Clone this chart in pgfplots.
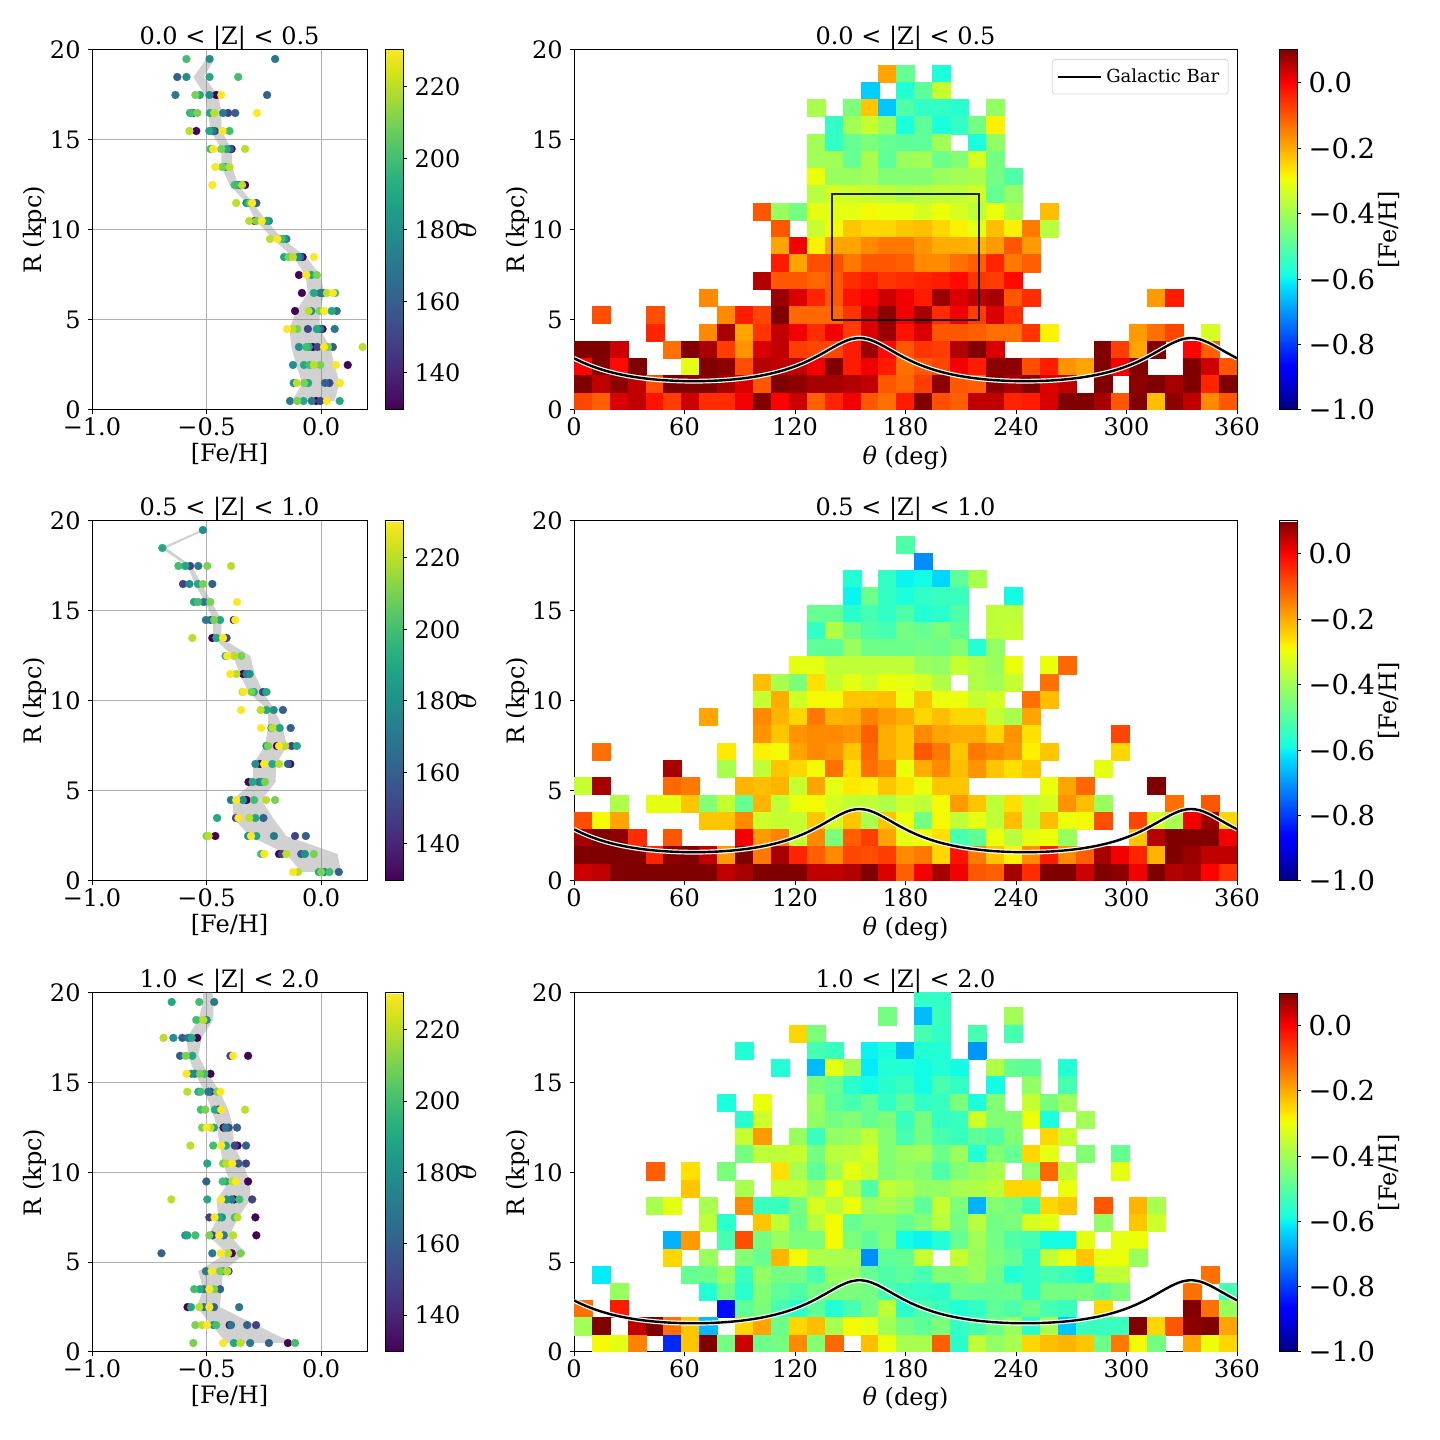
\documentclass[border=0pt]{standalone}
\usepackage{fontspec}
\setmainfont{DejaVu Serif}
\usepackage{pgfplots}
\usepackage{pgfplotstable}
\pgfplotsset{compat=1.18}

\pgfplotsset{
  colormap={mpljet}{rgb255(0)=(0,0,128) rgb255(22)=(0,0,255) rgb255(25)=(0,0,255) rgb255(68)=(0,219,255) rgb255(70)=(0,230,255) rgb255(75)=(21,255,226) rgb255(128)=(238,255,8) rgb255(130)=(247,246,0) rgb255(132)=(255,236,0) rgb255(178)=(255,19,0) rgb255(182)=(255,0,0) rgb255(200)=(128,0,0)},
  base/.style={
    scale only axis, at={(#1)}, anchor=south west,
    clip marker paths=true,
    ymin=0, ymax=20, ytick={0,5,10,15,20}, yticklabels={0,5,10,15,20},
    tick align=outside, tick pos=left,
    major tick length=2.2pt,
    tick style={black, line width=0.5pt},
    axis line style={line width=0.5pt},
    tick label style={font=\fontsize{12}{12}\selectfont},
    label style={font=\fontsize{12}{12}\selectfont},
    title style={font=\fontsize{12}{12}\selectfont, at={(axis description cs:0.5,1.039)}, anchor=center, yshift=-7pt},
    ylabel={R (kpc)},
    xticklabel style={yshift=2pt},
  },
  cbar/.style={
    at={(parent axis.south east)}, anchor=south west,
    width=9pt,
    tick pos=right,
    tick align=outside, major tick length=2.2pt,
    tick style={black, line width=0.5pt},
    axis line style={line width=0.5pt},
    ylabel style={font=\fontsize{12}{12}\selectfont},
  },
  leftax/.style={
    base={#1}, width=137.5pt, height=180pt,
    xmin=-1, xmax=0.2, xtick={-1,-0.5,0}, xticklabels={−1.0,−0.5,0.0},
    grid=major, grid style={color=black!31, line width=0.5pt},
    xlabel={[Fe/H]},
    xlabel style={at={(axis description cs:0.5,-0.123)}, anchor=center},
    ylabel style={at={(axis description cs:-0.207,0.5)}, anchor=center},
    colormap/viridis, point meta min=129.65, point meta max=230.35,
    colorbar,
    colorbar style={
      cbar, xshift=0.5pt,
      ytick={140,160,180,200,220}, yticklabels={140,160,180,200,220},
      tick label style={font=\fontsize{12}{12}\selectfont},
      ylabel={\textit{θ}},
      ylabel style={at={(axis description cs:4.6,0.5)}, anchor=center},
    },
  },
  rightax/.style={
    base={#1}, width=331.5pt, height=180pt,
    xmin=0, xmax=360, xtick={0,60,...,360}, xticklabels={0,60,120,180,240,300,360},
    xlabel={\textit{θ} (deg)},
    xlabel style={at={(axis description cs:0.5,-0.132)}, anchor=center},
    ylabel style={at={(axis description cs:-0.0845,0.5)}, anchor=center},
    colormap name=mpljet, point meta min=-1, point meta max=0.1,
    colorbar,
    colorbar style={
      cbar, xshift=12.5pt,
      ytick={-1,-0.8,-0.6,-0.4,-0.2,0}, yticklabels={−1.0,−0.8,−0.6,−0.4,−0.2,0.0},
      tick label style={font=\fontsize{13.7}{14}\selectfont},
      ylabel={[Fe/H]},
      ylabel style={at={(axis description cs:6.1,0.5)}, anchor=center},
    },
  },
  pts/.style={scatter, only marks, mark=*, mark size=2pt, scatter src=explicit, forget plot, line width=0.1pt,
    scatter/use mapped color={draw=mapped color, fill=mapped color}},
  band/.style={draw=none, fill=gray, fill opacity=0.36, forget plot},
  hm/.style={scatter, only marks, mark=square*, mark size=4.5pt, scatter src=explicit, forget plot,
    scatter/use mapped color={draw=mapped color, fill=mapped color},
    line width=0.1pt, mark options={yscale=0.955},
    x filter/.expression={(x+0.5)*360/37}, y filter/.expression={(y+0.5)*0.9595}},
}

\pgfplotstableread{
theta R
0 2.874
5 2.63
10 2.422
15 2.247
20 2.101
25 1.98
30 1.881
35 1.80
40 1.735
45 1.685
50 1.647
55 1.621
60 1.605
65 1.6
70 1.605
75 1.621
80 1.647
85 1.685
90 1.735
95 1.80
100 1.881
105 1.98
110 2.101
115 2.247
120 2.422
125 2.63
130 2.874
135 3.148
140 3.441
145 3.717
150 3.922
155 4
160 3.922
165 3.717
170 3.441
175 3.148
180 2.874
185 2.63
190 2.422
195 2.247
200 2.101
205 1.98
210 1.881
215 1.80
220 1.735
225 1.685
230 1.647
235 1.621
240 1.605
245 1.6
250 1.605
255 1.621
260 1.647
265 1.685
270 1.735
275 1.80
280 1.881
285 1.98
290 2.101
295 2.247
300 2.422
305 2.63
310 2.874
315 3.148
320 3.441
325 3.717
330 3.922
335 4
340 3.922
345 3.717
350 3.441
355 3.148
360 2.874
}\bartable

\begin{document}
\begin{tikzpicture}
\path[use as bounding box] (0,0) rectangle (720pt,720pt);

% ---- top row, 0.0 < |Z| < 0.5
\begin{axis}[leftax={46pt,515pt}, title={0.0 < |Z| < 0.5}]
\addplot[band] coordinates {(-0.5,19.5)(-0.558,18.5)(-0.507,17.5)(-0.493,16.5)(-0.483,15.5)(-0.435,14.5)(-0.435,13.5)(-0.399,12.5)(-0.326,11.5)(-0.283,10.5)(-0.21,9.5)(-0.123,8.5)(-0.068,7.5)(-0.058,6.5)(-0.109,5.5)(-0.138,4.5)(-0.13,3.5)(-0.109,2.5)(-0.083,1.5)(-0.126,0.5)
 (0.058,0.5)(0.08,1.5)(0.058,2.5)(0.039,3.5)(-0.007,4.5)(-0.007,5.5)(0.014,6.5)(-0.004,7.5)(-0.065,8.5)(-0.167,9.5)(-0.239,10.5)(-0.297,11.5)(-0.362,12.5)(-0.388,13.5)(-0.391,14.5)(-0.435,15.5)(-0.435,16.5)(-0.449,17.5)(-0.512,18.5)(-0.465,19.5)};
\addplot[pts] coordinates {
(-0.201,19.5)[170](-0.487,19.5)[180](-0.588,19.5)[200]
(-0.628,18.5)[160](-0.588,18.5)[180](-0.487,18.5)[190](-0.362,18.5)[200]
(-0.458,17.5)[130](-0.236,17.5)[160](-0.636,17.5)[170](-0.487,17.5)[180](-0.529,17.5)[190](-0.549,17.5)[210](-0.436,17.5)[230]
(-0.56,16.5)[130](-0.406,16.5)[150](-0.375,16.5)[160](-0.428,16.5)[170](-0.572,16.5)[190](-0.486,16.5)[190](-0.565,16.5)[200](-0.54,16.5)[210](-0.467,16.5)[220](-0.28,16.5)[230]
(-0.545,15.5)[130](-0.464,15.5)[150](-0.474,15.5)[170](-0.488,15.5)[190](-0.4,15.5)[200](-0.575,15.5)[220](-0.43,15.5)[230]
(-0.391,14.5)[130](-0.398,14.5)[160](-0.413,14.5)[190](-0.483,14.5)[200](-0.436,14.5)[210](-0.332,14.5)[220](-0.471,14.5)[230]
(-0.417,13.5)[190](-0.432,13.5)[210](-0.4,13.5)[220](-0.462,13.5)[230]
(-0.332,12.5)[130](-0.355,12.5)[160](-0.37,12.5)[180](-0.378,12.5)[200](-0.345,12.5)[220](-0.475,12.5)[230]
(-0.283,11.5)[160](-0.326,11.5)[170](-0.319,11.5)[190](-0.309,11.5)[210](-0.371,11.5)[220](-0.301,11.5)[230]
(-0.29,10.5)[130](-0.228,10.5)[180](-0.239,10.5)[190](-0.283,10.5)[210](-0.314,10.5)[220](-0.259,10.5)[230]
(-0.152,9.5)[170](-0.164,9.5)[190](-0.174,9.5)[200](-0.223,9.5)[220](-0.191,9.5)[230]
(-0.081,8.5)[130](-0.091,8.5)[160](-0.101,8.5)[180](-0.162,8.5)[190](-0.142,8.5)[210](-0.123,8.5)[220](-0.032,8.5)[230]
(-0.097,7.5)[130](-0.043,7.5)[190](-0.019,7.5)[210](-0.065,7.5)[230]
(-0.084,6.5)[130](0.007,6.5)[160](-0.004,6.5)[170](-0.032,6.5)[190](0.061,6.5)[200](0.025,6.5)[220](0.051,6.5)[230]
(-0.114,5.5)[130](0.068,5.5)[170](-0.043,5.5)[180](0.046,5.5)[190](-0.007,5.5)[210](-0.055,5.5)[220](0.013,5.5)[230]
(0.006,4.5)[130](-0.058,4.5)[150](0.059,4.5)[170](-0.004,4.5)[170](-0.019,4.5)[190](-0.104,4.5)[210](-0.126,4.5)[220](-0.149,4.5)[230]
(-0.036,3.5)[130](-0.016,3.5)[150](0.051,3.5)[160](-0.097,3.5)[180](-0.054,3.5)[190](-0.065,3.5)[200](0.03,3.5)[210](0.181,3.5)[220](0.012,3.5)[230]
(0.116,2.5)[130](-0.123,2.5)[180](-0.075,2.5)[190](-0.051,2.5)[200](-0.004,2.5)[210](-0.032,2.5)[220](0.064,2.5)[230]
(0.036,1.5)[150](0.017,1.5)[160](-0.12,1.5)[180](-0.057,1.5)[190](-0.074,1.5)[210](-0.106,1.5)[220](0.081,1.5)[220](0.081,1.5)[230]
(-0.022,0.5)[130](-0.004,0.5)[150](-0.136,0.5)[170](-0.041,0.5)[170](-0.077,0.5)[190](0.081,0.5)[190](-0.104,0.5)[210](0.025,0.5)[230]
};
\end{axis}

\begin{axis}[rightax={287pt,515pt}, title={0.0 < |Z| < 0.5},
  legend style={at={(0.9875,0.975)}, anchor=north east, draw=black!15, rounded corners=1.5pt, font=\fontsize{9}{10}\selectfont, inner sep=2.5pt, /tikz/column 2/.style={column sep=1.5pt}},
  legend image code/.code={\draw[#1] (0cm,0cm) -- (0.75cm,0cm);}]
\addplot[hm] coordinates {
(17,19)[-0.19](18,19)[-0.48](20,19)[-0.58]
(16,18)[-0.64](18,18)[-0.57](19,18)[-0.49](20,18)[-0.35]
(13,17)[-0.39](15,17)[-0.45](16,17)[-0.23](17,17)[-0.65](18,17)[-0.51](19,17)[-0.55](20,17)[-0.55](21,17)[-0.56](23,17)[-0.42]
(14,16)[-0.55](15,16)[-0.40](16,16)[-0.35](17,16)[-0.41](18,16)[-0.58](19,16)[-0.49](20,16)[-0.58](21,16)[-0.55](22,16)[-0.46](23,16)[-0.28]
(13,15)[-0.40](14,15)[-0.55](15,15)[-0.48](16,15)[-0.45](17,15)[-0.48](18,15)[-0.49](19,15)[-0.49](20,15)[-0.40](22,15)[-0.58](23,15)[-0.42]
(13,14)[-0.40](14,14)[-0.40](15,14)[-0.48](16,14)[-0.39](17,14)[-0.49](18,14)[-0.41](19,14)[-0.40](20,14)[-0.47](21,14)[-0.44](22,14)[-0.33](23,14)[-0.46]
(13,13)[-0.30](14,13)[-0.41](15,13)[-0.41](16,13)[-0.40](17,13)[-0.44](18,13)[-0.44](19,13)[-0.44](20,13)[-0.41](21,13)[-0.40](22,13)[-0.39](23,13)[-0.46](24,13)[-0.51]
(13,12)[-0.37](14,12)[-0.33](15,12)[-0.34](16,12)[-0.35](17,12)[-0.36](18,12)[-0.38](19,12)[-0.37](20,12)[-0.36](21,12)[-0.36](22,12)[-0.34](23,12)[-0.48](24,12)[-0.42]
(10,11)[-0.10](11,11)[-0.41](12,11)[-0.46](13,11)[-0.31](14,11)[-0.31](15,11)[-0.31](16,11)[-0.29](17,11)[-0.30](18,11)[-0.30](19,11)[-0.33](20,11)[-0.30](21,11)[-0.33](22,11)[-0.36](23,11)[-0.30](24,11)[-0.38](26,11)[-0.22]
(11,10)[-0.10](13,10)[-0.35](14,10)[-0.29](15,10)[-0.23](16,10)[-0.25](17,10)[-0.25](18,10)[-0.23](19,10)[-0.22](20,10)[-0.25](21,10)[-0.28](22,10)[-0.31](23,10)[-0.22](24,10)[-0.28](25,10)[-0.14](26,10)[-0.37]
(11,9)[-0.19](12,9)[0.01](13,9)[-0.28](14,9)[-0.19](15,9)[-0.19](16,9)[-0.16](17,9)[-0.14](18,9)[-0.14](19,9)[-0.17](20,9)[-0.20](21,9)[-0.20](22,9)[-0.21](23,9)[-0.18](24,9)[-0.10](25,9)[-0.18]
(11,8)[-0.03](12,8)[-0.19](13,8)[-0.09](14,8)[-0.09](15,8)[-0.14](16,8)[-0.10](17,8)[-0.10](18,8)[-0.11](19,8)[-0.16](20,8)[-0.16](21,8)[-0.13](22,8)[-0.11](23,8)[-0.04](24,8)[-0.14](25,8)[-0.11]
(10,7)[0.06](11,7)[-0.10](12,7)[-0.10](13,7)[-0.12](14,7)[-0.10](15,7)[-0.05](16,7)[-0.03](17,7)[-0.06](18,7)[-0.05](19,7)[-0.04](20,7)[-0.03](21,7)[-0.01](22,7)[-0.06](23,7)[-0.07](24,7)[-0.01]
(7,6)[-0.16](11,6)[0.08](12,6)[0.03](13,6)[-0.04](14,6)[-0.10](15,6)[-0.02](16,6)[0.00](17,6)[0.04](18,6)[0.01](19,6)[-0.03](20,6)[0.08](21,6)[0.03](22,6)[0.05](23,6)[0.07](24,6)[-0.10](25,6)[-0.05](32,6)[-0.18](33,6)[-0.03]
(1,5)[-0.09](4,5)[-0.09](8,5)[-0.16](9,5)[-0.03](10,5)[-0.08](11,5)[0.10](12,5)[-0.12](13,5)[-0.12](14,5)[-0.12](15,5)[-0.06](16,5)[0.03](17,5)[0.09](18,5)[0.01](19,5)[0.07](20,5)[-0.05](21,5)[0.01](22,5)[-0.07](23,5)[0.03](24,5)[-0.05]
(4,4)[-0.04](7,4)[-0.16](8,4)[0.07](9,4)[-0.19](10,4)[-0.06](11,4)[0.05](12,4)[0.01](13,4)[-0.05](14,4)[0.01](15,4)[-0.07](16,4)[0.03](17,4)[0.08](18,4)[-0.02](19,4)[0.03](20,4)[-0.10](21,4)[-0.10](22,4)[-0.11](23,4)[-0.13](24,4)[-0.13](25,4)[-0.06](26,4)[-0.28](31,4)[-0.18](32,4)[-0.13](33,4)[-0.08](35,4)[-0.33]
(0,3)[0.10](1,3)[0.10](2,3)[0.04](5,3)[-0.13](6,3)[0.10](7,3)[0.07](8,3)[-0.07](9,3)[-0.17](10,3)[0.03](11,3)[0.05](12,3)[-0.07](13,3)[-0.08](14,3)[-0.08](15,3)[-0.03](16,3)[0.08](17,3)[-0.01](18,3)[-0.10](19,3)[-0.06](20,3)[-0.07](21,3)[0.06](22,3)[0.10](23,3)[0.03](29,3)[0.10](30,3)[-0.07](31,3)[-0.19](32,3)[0.10](34,3)[0.00](35,3)[-0.11]
(0,2)[0.00](1,2)[0.10](2,2)[-0.01](3,2)[0.10](6,2)[-0.31](7,2)[0.10](8,2)[0.09](9,2)[-0.09](10,2)[0.06](11,2)[0.05](12,2)[0.05](13,2)[0.01](14,2)[0.10](15,2)[-0.03](16,2)[0.01](17,2)[-0.03](18,2)[-0.13](19,2)[-0.10](20,2)[-0.08](21,2)[0.01](22,2)[-0.03](23,2)[0.09](24,2)[0.09](25,2)[-0.09](26,2)[-0.03](27,2)[-0.17](28,2)[-0.19](29,2)[0.10](30,2)[0.01](31,2)[0.10](34,2)[0.10](35,2)[0.04](36,2)[-0.10]
(0,1)[0.10](1,1)[0.05](2,1)[0.09](3,1)[0.05](4,1)[-0.09](5,1)[0.10](6,1)[0.10](7,1)[0.10](8,1)[0.07](9,1)[0.03](10,1)[-0.10](11,1)[0.10](12,1)[0.09](13,1)[0.07](14,1)[0.07](15,1)[0.06](16,1)[0.05](17,1)[-0.10](18,1)[-0.12](19,1)[-0.07](20,1)[0.09](21,1)[-0.10](22,1)[-0.11](23,1)[0.09](24,1)[0.07](25,1)[0.10](26,1)[0.03](27,1)[0.05](29,1)[0.10](31,1)[0.09](32,1)[0.10](33,1)[0.07](34,1)[0.10](35,1)[-0.04](36,1)[0.10]
(0,0)[-0.08](1,0)[-0.11](2,0)[0.03](3,0)[0.05](4,0)[-0.02](5,0)[-0.07](6,0)[0.04](7,0)[-0.05](8,0)[-0.05](9,0)[0.01](10,0)[0.10](11,0)[0.00](12,0)[0.04](13,0)[-0.11](14,0)[-0.04](15,0)[0.01](16,0)[-0.10](17,0)[-0.13](18,0)[-0.03](19,0)[0.10](20,0)[-0.09](21,0)[-0.11](22,0)[0.05](23,0)[0.05](24,0)[-0.04](25,0)[-0.03](26,0)[0.03](27,0)[0.10](28,0)[0.10](29,0)[0.07](30,0)[-0.10](31,0)[0.10](32,0)[-0.22](33,0)[0.09](34,0)[0.05](35,0)[-0.16](36,0)[-0.10]
};
\addplot[black, opacity=0.85, line width=0.8pt, forget plot] coordinates {(140,5)(220,5)(220,12)(140,12)(140,5)};
\addplot[white, line width=2.4pt, smooth, forget plot] table[x=theta, y=R] {\bartable};
\addplot[black, line width=1.2pt, smooth] table[x=theta, y=R] {\bartable};
\addlegendentry{Galactic Bar}
\end{axis}

% ---- middle row, 0.5 < |Z| < 1.0
\begin{axis}[leftax={46pt,279.5pt}, title={0.5 < |Z| < 1.0}]
\addplot[band] coordinates {(-0.525,19.5)(-0.70,18.5)(-0.584,17.5)(-0.551,16.5)(-0.507,15.5)(-0.471,14.5)(-0.471,13.5)(-0.384,12.5)(-0.355,11.5)(-0.319,10.5)(-0.232,9.5)(-0.232,8.5)(-0.246,7.5)(-0.297,6.5)(-0.297,5.5)(-0.387,4.5)(-0.384,3.5)(-0.312,2.5)(-0.152,1.5)(-0.087,0.5)
 (0.087,0.5)(0.072,1.5)(-0.152,2.5)(-0.21,3.5)(-0.261,4.5)(-0.199,5.5)(-0.196,6.5)(-0.149,7.5)(-0.167,8.5)(-0.203,9.5)(-0.254,10.5)(-0.29,11.5)(-0.309,12.5)(-0.435,13.5)(-0.435,14.5)(-0.478,15.5)(-0.522,16.5)(-0.565,17.5)(-0.675,18.5)(-0.505,19.5)};
\addplot[pts] coordinates {
(-0.516,19.5)[180]
(-0.693,18.5)[190]
(-0.572,17.5)[150](-0.536,17.5)[170](-0.593,17.5)[190](-0.623,17.5)[200](-0.497,17.5)[210](-0.393,17.5)[220]
(-0.603,16.5)[150](-0.475,16.5)[160](-0.575,16.5)[180](-0.538,16.5)[190](-0.516,16.5)[210]
(-0.512,15.5)[170](-0.555,15.5)[190](-0.538,15.5)[200](-0.484,15.5)[210](-0.367,15.5)[230]
(-0.381,14.5)[130](-0.483,14.5)[160](-0.503,14.5)[170](-0.441,14.5)[190](-0.467,14.5)[210](-0.375,14.5)[230]
(-0.475,13.5)[130](-0.413,13.5)[150](-0.457,13.5)[190](-0.562,13.5)[220](-0.428,13.5)[230]
(-0.417,12.5)[190](-0.349,12.5)[210](-0.38,12.5)[220](-0.41,12.5)[230]
(-0.341,11.5)[130](-0.326,11.5)[170](-0.312,11.5)[180](-0.37,11.5)[220](-0.397,11.5)[230]
(-0.254,10.5)[150](-0.294,10.5)[190](-0.239,10.5)[190](-0.304,10.5)[210](-0.343,10.5)[220](-0.338,10.5)[230]
(-0.167,9.5)[160](-0.207,9.5)[180](-0.239,9.5)[190](-0.264,9.5)[220](-0.349,9.5)[230]
(-0.133,8.5)[160](-0.217,8.5)[180](-0.181,8.5)[190](-0.213,8.5)[220](-0.262,8.5)[230]
(-0.193,7.5)[130](-0.129,7.5)[150](-0.239,7.5)[180](-0.106,7.5)[190](-0.232,7.5)[210](-0.157,7.5)[220](-0.184,7.5)[230]
(-0.268,6.5)[130](-0.135,6.5)[130](-0.145,6.5)[160](-0.287,6.5)[180](-0.213,6.5)[190](-0.183,6.5)[220](-0.249,6.5)[230]
(-0.317,5.5)[130](-0.271,5.5)[170](-0.259,5.5)[180](-0.299,5.5)[190](-0.245,5.5)[210]
(-0.326,4.5)[130](-0.394,4.5)[170](-0.341,4.5)[180](-0.293,4.5)[200](-0.201,4.5)[210](-0.241,4.5)[220](-0.371,4.5)[230]
(-0.372,3.5)[150](-0.252,3.5)[160](-0.454,3.5)[190](-0.287,3.5)[190](-0.314,3.5)[220](-0.361,3.5)[230]
(-0.462,2.5)[130](-0.114,2.5)[150](-0.067,2.5)[160](-0.206,2.5)[170](-0.319,2.5)[180](-0.283,2.5)[190](-0.5,2.5)[210](-0.491,2.5)[220](-0.306,2.5)[230]
(-0.184,1.5)[130](-0.171,1.5)[150](-0.087,1.5)[160](-0.071,1.5)[180](-0.262,1.5)[200](-0.032,1.5)[210](-0.152,1.5)[220](-0.248,1.5)[230]
(0.077,0.5)[160](0.014,0.5)[170](-0.01,0.5)[190](0.036,0.5)[200](0,0.5)[210](-0.101,0.5)[220](-0.123,0.5)[230]
};
\end{axis}

\begin{axis}[rightax={287pt,279.5pt}, title={0.5 < |Z| < 1.0}]
\addplot[hm] coordinates {
(18,19)[-0.51]
(19,18)[-0.71]
(15,17)[-0.57](17,17)[-0.55](18,17)[-0.60](19,17)[-0.59](20,17)[-0.63](21,17)[-0.49](22,17)[-0.39]
(15,16)[-0.60](16,16)[-0.47](17,16)[-0.55](18,16)[-0.58](19,16)[-0.55](20,16)[-0.54](21,16)[-0.54](24,16)[-0.59]
(13,15)[-0.48](14,15)[-0.48](15,15)[-0.56](16,15)[-0.52](17,15)[-0.55](18,15)[-0.51](19,15)[-0.57](20,15)[-0.56](21,15)[-0.51](23,15)[-0.36](24,15)[-0.36]
(13,14)[-0.55](14,14)[-0.38](15,14)[-0.46](16,14)[-0.51](17,14)[-0.52](18,14)[-0.46](19,14)[-0.48](20,14)[-0.45](21,14)[-0.49](23,14)[-0.36](24,14)[-0.35]
(13,13)[-0.49](14,13)[-0.49](15,13)[-0.41](16,13)[-0.47](17,13)[-0.47](18,13)[-0.47](19,13)[-0.46](20,13)[-0.47](21,13)[-0.44](22,13)[-0.57](23,13)[-0.42]
(12,12)[-0.31](13,12)[-0.31](14,12)[-0.36](15,12)[-0.36](16,12)[-0.36](17,12)[-0.36](18,12)[-0.36](19,12)[-0.41](20,12)[-0.42](21,12)[-0.35](22,12)[-0.38](23,12)[-0.41](24,12)[-0.30](26,12)[-0.30](27,12)[-0.12]
(10,11)[-0.22](11,11)[-0.39](12,11)[-0.45](13,11)[-0.26](14,11)[-0.35](15,11)[-0.31](16,11)[-0.34](17,11)[-0.30](18,11)[-0.31](19,11)[-0.33](20,11)[-0.38](22,11)[-0.38](23,11)[-0.40](24,11)[-0.35](26,11)[-0.13]
(10,10)[-0.35](11,10)[-0.20](12,10)[-0.34](13,10)[-0.29](14,10)[-0.29](15,10)[-0.23](16,10)[-0.23](17,10)[-0.22](18,10)[-0.30](19,10)[-0.23](20,10)[-0.30](21,10)[-0.30](22,10)[-0.35](23,10)[-0.33](25,10)[-0.13](26,10)[-0.22]
(7,9)[-0.19](10,9)[-0.16](11,9)[-0.21](12,9)[-0.25](13,9)[-0.14](14,9)[-0.21](15,9)[-0.20](16,9)[-0.15](17,9)[-0.18](18,9)[-0.20](19,9)[-0.25](20,9)[-0.22](21,9)[-0.25](22,9)[-0.25](23,9)[-0.35](24,9)[-0.39](25,9)[-0.19]
(10,8)[-0.17](11,8)[-0.23](12,8)[-0.17](13,8)[-0.16](14,8)[-0.16](15,8)[-0.17](16,8)[-0.11](17,8)[-0.20](18,8)[-0.23](19,8)[-0.16](20,8)[-0.19](21,8)[-0.20](22,8)[-0.20](23,8)[-0.25](24,8)[-0.17](25,8)[-0.26](30,8)[-0.08]
(1,7)[-0.13](8,7)[-0.27](10,7)[-0.28](11,7)[-0.29](12,7)[-0.19](13,7)[-0.16](14,7)[-0.17](15,7)[-0.23](16,7)[-0.12](17,7)[-0.20](18,7)[-0.23](19,7)[-0.10](20,7)[-0.14](21,7)[-0.23](22,7)[-0.14](23,7)[-0.16](24,7)[-0.18](25,7)[-0.28](26,7)[-0.23](30,7)[-0.25]
(5,6)[0.07](8,6)[-0.39](10,6)[-0.36](11,6)[-0.23](12,6)[-0.25](13,6)[-0.29](14,6)[-0.13](15,6)[-0.26](16,6)[-0.13](17,6)[-0.16](18,6)[-0.30](19,6)[-0.20](20,6)[-0.16](21,6)[-0.22](22,6)[-0.17](23,6)[-0.23](24,6)[-0.26](25,6)[-0.23](29,6)[-0.31]
(0,5)[-0.35](1,5)[0.07](5,5)[-0.12](6,5)[-0.14](9,5)[-0.21](10,5)[-0.22](11,5)[-0.21](12,5)[-0.35](13,5)[-0.19](14,5)[-0.31](15,5)[-0.27](16,5)[-0.28](17,5)[-0.23](18,5)[-0.26](19,5)[-0.30](20,5)[-0.23](21,5)[-0.23](26,5)[-0.30](27,5)[-0.19](28,5)[-0.12](32,5)[0.10]
(2,4)[-0.38](4,4)[-0.31](5,4)[-0.31](6,4)[-0.23](7,4)[-0.44](8,4)[-0.35](9,4)[-0.48](10,4)[-0.21](11,4)[-0.36](12,4)[-0.30](13,4)[-0.29](14,4)[-0.33](15,4)[-0.36](16,4)[-0.36](17,4)[-0.38](18,4)[-0.34](19,4)[-0.36](20,4)[-0.29](21,4)[-0.18](22,4)[-0.23](23,4)[-0.36](24,4)[-0.26](25,4)[-0.35](26,4)[-0.33](27,4)[-0.17](28,4)[-0.22](29,4)[-0.41](33,4)[-0.13](35,4)[-0.10]
(0,3)[-0.09](1,3)[-0.29](2,3)[-0.19](7,3)[-0.23](8,3)[-0.23](9,3)[-0.16](10,3)[-0.34](11,3)[-0.35](12,3)[-0.35](13,3)[-0.23](14,3)[-0.33](15,3)[-0.23](16,3)[-0.39](17,3)[-0.23](18,3)[-0.30](19,3)[-0.46](20,3)[-0.29](21,3)[-0.36](22,3)[-0.31](23,3)[-0.36](24,3)[-0.22](25,3)[-0.36](26,3)[-0.22](27,3)[-0.30](28,3)[-0.29](29,3)[-0.09](31,3)[-0.08](32,3)[-0.33](33,3)[-0.39](34,3)[0.01](35,3)[0.08](36,3)[-0.25]
(0,2)[0.07](1,2)[0.10](2,2)[0.09](3,2)[-0.05](5,2)[-0.10](9,2)[0.01](10,2)[-0.18](11,2)[-0.15](12,2)[-0.35](13,2)[-0.16](14,2)[-0.45](15,2)[-0.11](16,2)[-0.07](17,2)[-0.19](18,2)[-0.31](19,2)[-0.30](20,2)[-0.26](21,2)[-0.52](22,2)[-0.49](23,2)[-0.30](24,2)[-0.37](25,2)[-0.31](26,2)[-0.30](27,2)[-0.41](31,2)[-0.23](32,2)[0.06](33,2)[0.10](34,2)[0.10](35,2)[0.10](36,2)[0.01]
(0,1)[0.10](1,1)[0.10](2,1)[0.10](3,1)[0.10](4,1)[-0.04](5,1)[0.09](6,1)[0.10](7,1)[0.05](8,1)[-0.18](9,1)[0.10](10,1)[-0.14](11,1)[0.07](12,1)[-0.04](13,1)[-0.11](14,1)[-0.16](15,1)[-0.08](16,1)[-0.09](17,1)[-0.07](18,1)[-0.16](19,1)[-0.14](20,1)[-0.25](21,1)[-0.02](22,1)[-0.14](23,1)[-0.23](24,1)[-0.28](25,1)[-0.16](26,1)[-0.03](27,1)[-0.16](28,1)[-0.11](29,1)[0.07](30,1)[0.01](31,1)[-0.04](32,1)[-0.21](33,1)[0.10](34,1)[0.08](35,1)[0.05](36,1)[0.05]
(0,0)[0.04](1,0)[0.05](2,0)[0.10](3,0)[0.10](4,0)[0.10](5,0)[0.10](6,0)[0.10](7,0)[0.10](8,0)[0.05](9,0)[0.07](10,0)[0.10](11,0)[0.10](12,0)[0.10](13,0)[0.05](14,0)[0.05](15,0)[0.06](16,0)[0.10](17,0)[0.03](18,0)[-0.11](19,0)[0.01](20,0)[0.07](21,0)[0.01](22,0)[-0.10](23,0)[-0.11](24,0)[0.07](25,0)[-0.05](26,0)[0.10](27,0)[0.10](28,0)[0.04](29,0)[0.10](30,0)[0.09](31,0)[0.01](32,0)[0.10](33,0)[0.06](34,0)[0.07](35,0)[0.00](36,0)[-0.06]
};
\addplot[white, line width=2.4pt, smooth, forget plot] table[x=theta, y=R] {\bartable};
\addplot[black, line width=1.2pt, smooth, forget plot] table[x=theta, y=R] {\bartable};
\end{axis}

% ---- bottom row, 1.0 < |Z| < 2.0
\begin{axis}[leftax={46pt,44pt}, height=179.5pt, title={1.0 < |Z| < 2.0}]
\addplot[band] coordinates {(-0.514,20.5)(-0.515,19.5)(-0.536,18.5)(-0.587,17.5)(-0.58,16.5)(-0.551,15.5)(-0.507,14.5)(-0.478,13.5)(-0.454,12.5)(-0.442,11.5)(-0.428,10.5)(-0.399,9.5)(-0.457,8.5)(-0.449,7.5)(-0.493,6.5)(-0.413,5.5)(-0.536,4.5)(-0.514,3.5)(-0.543,2.5)(-0.478,1.5)(-0.413,0.5)
 (-0.123,0.5)(-0.283,1.5)(-0.442,2.5)(-0.435,3.5)(-0.428,4.5)(-0.329,5.5)(-0.399,6.5)(-0.362,7.5)(-0.309,8.5)(-0.312,9.5)(-0.341,10.5)(-0.381,11.5)(-0.384,12.5)(-0.406,13.5)(-0.442,14.5)(-0.493,15.5)(-0.536,16.5)(-0.522,17.5)(-0.471,18.5)(-0.47,19.5)(-0.478,20.5)};
\addplot[pts] coordinates {
(-0.467,19.5)[170](-0.652,19.5)[190](-0.532,19.5)[200]
(-0.5,18.5)[180](-0.545,18.5)[200](-0.514,18.5)[220]
(-0.541,17.5)[130](-0.606,17.5)[160](-0.58,17.5)[170](-0.645,17.5)[180](-0.565,17.5)[190](-0.688,17.5)[220]
(-0.319,16.5)[130](-0.396,16.5)[150](-0.616,16.5)[160](-0.562,16.5)[190](-0.591,16.5)[210](-0.384,16.5)[230]
(-0.483,15.5)[130](-0.551,15.5)[170](-0.565,15.5)[180](-0.51,15.5)[200](-0.529,15.5)[210](-0.588,15.5)[230]
(-0.483,14.5)[150](-0.493,14.5)[170](-0.536,14.5)[190](-0.526,14.5)[200](-0.454,14.5)[210](-0.584,14.5)[220](-0.439,14.5)[230]
(-0.449,13.5)[130](-0.464,13.5)[190](-0.525,13.5)[200](-0.506,13.5)[210](-0.332,13.5)[220](-0.436,13.5)[230]
(-0.426,12.5)[130](-0.404,12.5)[150](-0.367,12.5)[160](-0.417,12.5)[170](-0.468,12.5)[190](-0.52,12.5)[210](-0.483,12.5)[220](-0.5,12.5)[230]
(-0.365,11.5)[130](-0.377,11.5)[150](-0.328,11.5)[160](-0.416,11.5)[190](-0.471,11.5)[200](-0.571,11.5)[220](-0.436,11.5)[230]
(-0.328,10.5)[150](-0.361,10.5)[160](-0.497,10.5)[190](-0.428,10.5)[210](-0.413,10.5)[220](-0.388,10.5)[230]
(-0.319,9.5)[130](-0.501,9.5)[160](-0.416,9.5)[190](-0.43,9.5)[200](-0.387,9.5)[220](-0.372,9.5)[230]
(-0.38,8.5)[130](-0.301,8.5)[150](-0.391,8.5)[170](-0.413,8.5)[180](-0.497,8.5)[190](-0.357,8.5)[200](-0.654,8.5)[220](-0.436,8.5)[230]
(-0.287,7.5)[130](-0.488,7.5)[150](-0.433,7.5)[180](-0.445,7.5)[190](-0.377,7.5)[200](-0.365,7.5)[220](-0.465,7.5)[230]
(-0.283,6.5)[130](-0.475,6.5)[150](-0.425,6.5)[170](-0.593,6.5)[180](-0.584,6.5)[190](-0.549,6.5)[200](-0.488,6.5)[210](-0.384,6.5)[220](-0.445,6.5)[230]
(-0.39,5.5)[130](-0.697,5.5)[160](-0.475,5.5)[170](-0.351,5.5)[210](-0.406,5.5)[220](-0.439,5.5)[230]
(-0.404,4.5)[150](-0.503,4.5)[170](-0.428,4.5)[190](-0.441,4.5)[210](-0.41,4.5)[220](-0.478,4.5)[230]
(-0.441,3.5)[160](-0.512,3.5)[170](-0.529,3.5)[190](-0.554,3.5)[200](-0.467,3.5)[210](-0.488,3.5)[230]
(-0.583,2.5)[130](-0.468,2.5)[160](-0.512,2.5)[170](-0.358,2.5)[170](-0.568,2.5)[190](-0.532,2.5)[220](-0.488,2.5)[230]
(-0.399,1.5)[130](-0.284,1.5)[150](-0.323,1.5)[160](-0.393,1.5)[170](-0.471,1.5)[180](-0.458,1.5)[200](-0.549,1.5)[210](-0.519,1.5)[220](-0.497,1.5)[230]
(-0.145,0.5)[130](-0.228,0.5)[160](-0.31,0.5)[170](-0.381,0.5)[190](-0.114,0.5)[200](-0.558,0.5)[210](-0.352,0.5)[220](-0.428,0.5)[230]
};
\end{axis}

\begin{axis}[rightax={287pt,44pt}, height=179.5pt, title={1.0 < |Z| < 2.0}]
\addplot[hm] coordinates {
(19,20)[-0.55](20,20)[-0.55]
(17,19)[-0.46](19,19)[-0.66](20,19)[-0.54](24,19)[-0.40]
(12,18)[-0.25](13,18)[-0.45](19,18)[-0.52](20,18)[-0.55](22,18)[-0.52](24,18)[-0.52]
(9,17)[-0.57](13,17)[-0.52](14,17)[-0.54](16,17)[-0.60](17,17)[-0.58](18,17)[-0.66](19,17)[-0.57](20,17)[-0.57](22,17)[-0.70]
(11,16)[-0.57](13,16)[-0.66](14,16)[-0.31](15,16)[-0.39](16,16)[-0.61](17,16)[-0.57](18,16)[-0.57](19,16)[-0.59](20,16)[-0.57](21,16)[-0.59](23,16)[-0.38](24,16)[-0.48](25,16)[-0.49](27,16)[-0.57]
(13,15)[-0.45](14,15)[-0.48](15,15)[-0.56](16,15)[-0.59](17,15)[-0.56](18,15)[-0.54](19,15)[-0.59](20,15)[-0.52](21,15)[-0.55](23,15)[-0.59](25,15)[-0.42](27,15)[-0.52]
(8,14)[-0.58](10,14)[-0.30](13,14)[-0.41](14,14)[-0.49](15,14)[-0.52](16,14)[-0.48](17,14)[-0.55](18,14)[-0.49](19,14)[-0.55](20,14)[-0.54](21,14)[-0.45](22,14)[-0.58](23,14)[-0.44](25,14)[-0.35](26,14)[-0.45](27,14)[-0.40]
(9,13)[-0.56](10,13)[-0.34](13,13)[-0.42](14,13)[-0.46](15,13)[-0.44](16,13)[-0.48](17,13)[-0.45](18,13)[-0.54](19,13)[-0.46](20,13)[-0.55](21,13)[-0.54](22,13)[-0.34](23,13)[-0.44](24,13)[-0.44](25,13)[-0.30](26,13)[-0.58](28,13)[-0.40]
(9,12)[-0.35](10,12)[-0.18](12,12)[-0.41](13,12)[-0.54](14,12)[-0.42](15,12)[-0.41](16,12)[-0.36](17,12)[-0.44](18,12)[-0.52](19,12)[-0.46](20,12)[-0.52](21,12)[-0.54](22,12)[-0.49](23,12)[-0.51](24,12)[-0.44](26,12)[-0.25](27,12)[-0.35]
(9,11)[-0.46](10,11)[-0.36](11,11)[-0.36](12,11)[-0.35](13,11)[-0.46](14,11)[-0.37](15,11)[-0.36](16,11)[-0.33](17,11)[-0.44](18,11)[-0.41](19,11)[-0.40](20,11)[-0.47](21,11)[-0.41](22,11)[-0.57](23,11)[-0.44](24,11)[-0.48](25,11)[-0.25](26,11)[-0.31](28,11)[-0.44](30,11)[-0.48]
(4,10)[-0.11](6,10)[-0.26](8,10)[-0.45](11,10)[-0.26](12,10)[-0.39](13,10)[-0.49](14,10)[-0.40](15,10)[-0.31](16,10)[-0.35](17,10)[-0.44](18,10)[-0.42](19,10)[-0.44](20,10)[-0.51](21,10)[-0.44](22,10)[-0.41](23,10)[-0.39](25,10)[-0.42](26,10)[-0.12](27,10)[-0.36](30,10)[-0.31]
(6,9)[-0.23](9,9)[-0.39](11,9)[-0.35](12,9)[-0.35](13,9)[-0.41](14,9)[-0.30](15,9)[-0.38](16,9)[-0.51](17,9)[-0.36](18,9)[-0.38](19,9)[-0.42](20,9)[-0.42](21,9)[-0.39](22,9)[-0.38](23,9)[-0.36](24,9)[-0.25](25,9)[-0.25](27,9)[-0.30]
(4,8)[-0.39](5,8)[-0.31](7,8)[-0.39](9,8)[-0.16](10,8)[-0.54](11,8)[-0.54](12,8)[-0.46](13,8)[-0.33](14,8)[-0.37](15,8)[-0.30](16,8)[-0.41](17,8)[-0.39](18,8)[-0.42](19,8)[-0.49](20,8)[-0.35](21,8)[-0.45](22,8)[-0.67](23,8)[-0.44](24,8)[-0.46](25,8)[-0.52](26,8)[-0.25](27,8)[-0.23](29,8)[-0.10](31,8)[-0.21](32,8)[-0.39]
(7,7)[-0.36](8,7)[-0.56](10,7)[-0.23](11,7)[-0.36](12,7)[-0.47](13,7)[-0.37](14,7)[-0.29](15,7)[-0.48](16,7)[-0.45](17,7)[-0.45](18,7)[-0.48](19,7)[-0.44](20,7)[-0.37](21,7)[-0.46](22,7)[-0.37](23,7)[-0.46](24,7)[-0.45](25,7)[-0.33](26,7)[-0.31](29,7)[-0.42](31,7)[-0.23](32,7)[-0.34]
(5,6)[-0.67](6,6)[-0.18](8,6)[-0.52](9,6)[-0.09](10,6)[-0.46](11,6)[-0.41](12,6)[-0.45](13,6)[-0.45](14,6)[-0.29](15,6)[-0.45](16,6)[-0.49](17,6)[-0.44](18,6)[-0.59](19,6)[-0.60](20,6)[-0.57](21,6)[-0.48](22,6)[-0.40](23,6)[-0.46](24,6)[-0.51](25,6)[-0.52](26,6)[-0.59](27,6)[-0.59](28,6)[-0.31](30,6)[-0.31](31,6)[-0.30]
(5,5)[-0.25](7,5)[-0.41](9,5)[-0.44](10,5)[-0.48](11,5)[-0.21](12,5)[-0.29](13,5)[-0.38](14,5)[-0.39](15,5)[-0.39](16,5)[-0.71](17,5)[-0.49](18,5)[-0.48](19,5)[-0.35](21,5)[-0.35](22,5)[-0.41](23,5)[-0.45](24,5)[-0.48](25,5)[-0.55](26,5)[-0.36](27,5)[-0.30](28,5)[-0.23](29,5)[-0.30](30,5)[-0.30](31,5)[-0.41]
(1,4)[-0.61](6,4)[-0.48](7,4)[-0.47](8,4)[-0.41](9,4)[-0.54](10,4)[-0.42](11,4)[-0.46](12,4)[-0.46](13,4)[-0.52](14,4)[-0.41](15,4)[-0.41](16,4)[-0.48](17,4)[-0.51](18,4)[-0.49](19,4)[-0.52](20,4)[-0.44](21,4)[-0.44](22,4)[-0.41](23,4)[-0.47](24,4)[-0.57](25,4)[-0.55](26,4)[-0.52](27,4)[-0.54](28,4)[-0.57](29,4)[-0.36](30,4)[-0.36](35,4)[-0.13]
(2,3)[-0.41](7,3)[-0.57](8,3)[-0.46](9,3)[-0.56](10,3)[-0.44](11,3)[-0.49](12,3)[-0.51](13,3)[-0.46](14,3)[-0.45](15,3)[-0.45](16,3)[-0.46](17,3)[-0.52](18,3)[-0.54](19,3)[-0.55](20,3)[-0.56](21,3)[-0.47](22,3)[-0.48](23,3)[-0.48](24,3)[-0.47](25,3)[-0.55](26,3)[-0.46](27,3)[-0.46](28,3)[-0.45](29,3)[-0.49](30,3)[-0.45](34,3)[-0.13](36,3)[-0.52]
(0,2)[-0.13](2,2)[-0.03](8,2)[-0.85](9,2)[-0.49](10,2)[-0.45](11,2)[-0.52](12,2)[-0.56](13,2)[-0.49](14,2)[-0.57](15,2)[-0.52](16,2)[-0.46](17,2)[-0.36](18,2)[-0.56](19,2)[-0.51](20,2)[-0.54](21,2)[-0.57](22,2)[-0.55](23,2)[-0.49](24,2)[-0.51](25,2)[-0.47](26,2)[-0.52](27,2)[-0.54](29,2)[-0.25](34,2)[0.10](35,2)[-0.13](36,2)[-0.41]
(0,1)[-0.40](1,1)[0.10](3,1)[0.05](4,1)[0.10](5,1)[-0.13](6,1)[-0.23](7,1)[-0.66](9,1)[-0.25](10,1)[-0.19](11,1)[-0.47](12,1)[-0.25](13,1)[-0.22](14,1)[-0.39](15,1)[-0.29](16,1)[-0.31](17,1)[-0.40](18,1)[-0.46](19,1)[-0.49](20,1)[-0.45](21,1)[-0.55](22,1)[-0.52](23,1)[-0.47](24,1)[-0.41](25,1)[-0.56](26,1)[-0.39](27,1)[-0.65](28,1)[-0.54](29,1)[-0.54](30,1)[-0.54](31,1)[0.10](32,1)[-0.25](33,1)[-0.10](34,1)[0.09](35,1)[0.10](36,1)[-0.19]
(1,0)[-0.29](2,0)[-0.31](3,0)[-0.15](5,0)[-0.82](6,0)[-0.23](7,0)[0.10](8,0)[-0.46](9,0)[0.04](10,0)[-0.47](11,0)[-0.46](12,0)[-0.16](13,0)[-0.44](14,0)[-0.12](16,0)[-0.22](17,0)[-0.30](18,0)[-0.39](19,0)[-0.39](20,0)[-0.11](21,0)[-0.56](22,0)[-0.36](23,0)[-0.42](24,0)[-0.39](25,0)[-0.25](26,0)[-0.22](27,0)[-0.21](28,0)[-0.23](29,0)[-0.47](30,0)[-0.14](31,0)[-0.29](32,0)[-0.46](34,0)[-0.19](35,0)[-0.30](36,0)[-0.25]
};
\addplot[white, line width=2.4pt, smooth, forget plot] table[x=theta, y=R] {\bartable};
\addplot[black, line width=1.2pt, smooth, forget plot] table[x=theta, y=R] {\bartable};
\end{axis}
\end{tikzpicture}
\end{document}
